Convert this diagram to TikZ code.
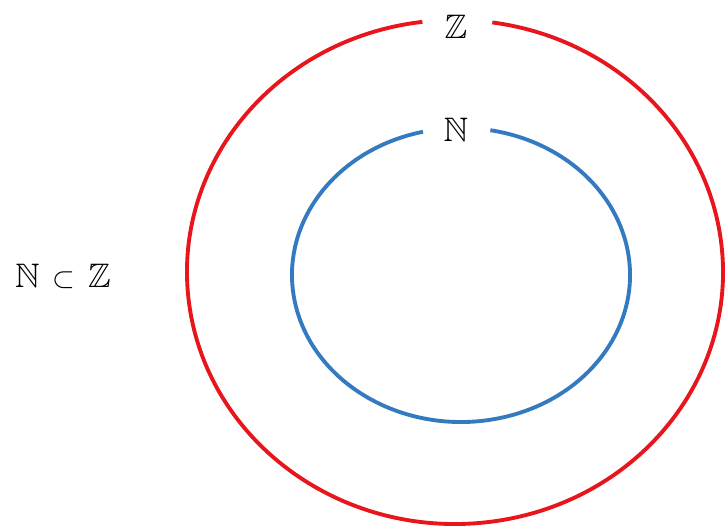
\documentclass[tikz,border=0pt]{standalone}
\usepackage{amsmath,amssymb}
\definecolor{setred}{RGB}{232,22,28}
\definecolor{setblue}{RGB}{52,122,192}
\tikzset{
  setlabel/.style={inner sep=0pt, font=\fontsize{29}{33}\selectfont},
  setline/.style={line width=3.3pt}
}
\begin{document}
\begin{tikzpicture}[x=0.03cm,y=0.03cm]
\useasboundingbox (0,0) rectangle (728,529);
\draw[setline,setred] (455,257) ++(97:268 and 252) arc[start angle=97, end angle=442, x radius=268, y radius=252];
\draw[setline,setblue] (461,254) ++(103:169 and 147) arc[start angle=103, end angle=440, x radius=169, y radius=147];
\node[setlabel] (zset) at (456,502) {$\mathbb{Z}$};
\node[setlabel] (nset) at (456,399) {$\mathbb{N}$};
\node[setlabel] (incl) at (63,253) {$\mathbb{N} \,\subset\, \mathbb{Z}$};
\end{tikzpicture}
\end{document}
